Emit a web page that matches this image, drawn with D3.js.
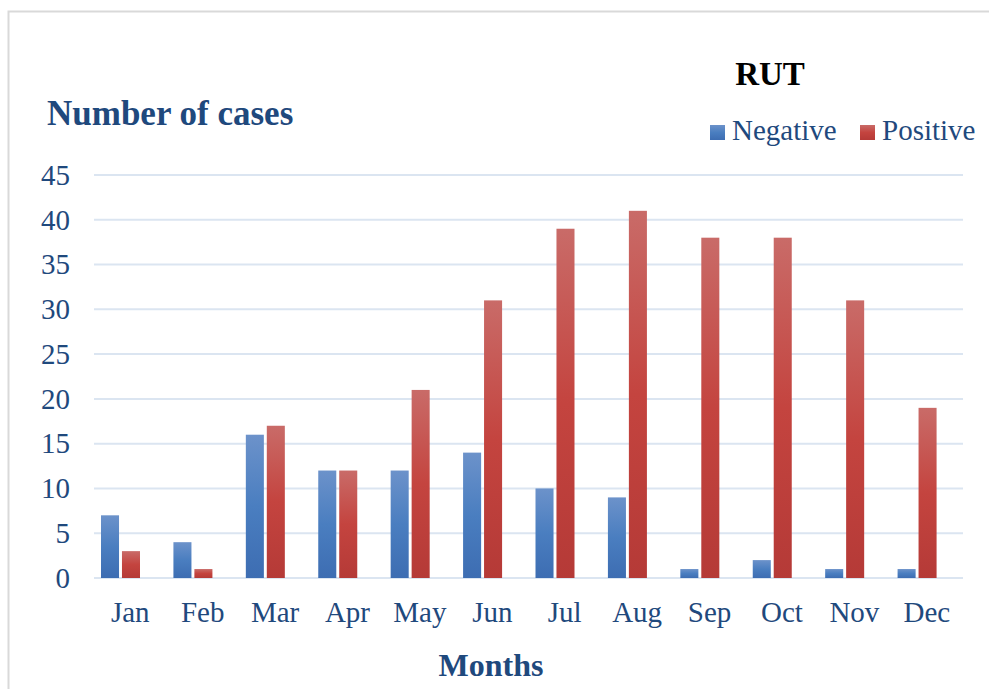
<!DOCTYPE html>
<html lang="en">
<head>
<meta charset="UTF-8"/>
<title>RUT</title>
<script src="https://d3js.org/d3.v7.min.js"></script>
<style>
  body { margin: 0; background: #fff; }
  text { font-family: "Liberation Serif", "Times New Roman", serif; }
</style>
</head>
<body>
<svg id="chart" width="989" height="689"></svg>
<script>
// data
var months = ["Jan", "Feb", "Mar", "Apr", "May", "Jun", "Jul", "Aug", "Sep", "Oct", "Nov", "Dec"];
var seriesNames = ["Negative", "Positive"];
var negative = [7, 4, 16, 12, 12, 14, 10, 9, 1, 2, 1, 1];
var positive = [3, 1, 17, 12, 21, 31, 39, 41, 38, 38, 31, 19];
var yTicks = [0, 5, 10, 15, 20, 25, 30, 35, 40, 45];

var textColor = "#1f497d";

var svg = d3.select("#chart");

// gradients like the office fill
var defs = svg.append("defs");
function grad(id, stops) {
  var g = defs.append("linearGradient").attr("id", id)
    .attr("x1", 0).attr("y1", 0).attr("x2", 0).attr("y2", 1);
  stops.forEach(function(s) {
    g.append("stop").attr("offset", s[0]).attr("stop-color", s[1]);
  });
}
grad("gNeg", [[0, "#6c92ca"], [0.5, "#4a7ec0"], [1, "#3d6db2"]]);
grad("gPos", [[0, "#c96b68"], [0.5, "#c4443f"], [1, "#b53a37"]]);
var fills = { Negative: "url(#gNeg)", Positive: "url(#gPos)" };

// outer frame
svg.append("rect")
  .attr("x", 8.5).attr("y", 11.5)
  .attr("width", 1200).attr("height", 900)
  .attr("fill", "none")
  .attr("stroke", "#d9d9d9")
  .attr("stroke-width", 2);

var x = d3.scaleBand().domain(months).range([94, 963]);
var xInner = d3.scaleBand().domain(seriesNames).range([7, 46]).paddingInner(0.14);
var y = d3.scaleLinear().domain([0, 45]).range([578, 175]);

// gridlines
svg.append("g")
  .selectAll("line")
  .data(yTicks)
  .enter()
  .append("line")
    .attr("x1", 94).attr("x2", 963)
    .attr("y1", function(d) { return y(d); })
    .attr("y2", function(d) { return y(d); })
    .attr("stroke", "#dbe5f1")
    .attr("stroke-width", 2);

// y tick labels
var yAxis = svg.append("g")
  .attr("transform", "translate(70,0)")
  .call(d3.axisLeft(y).tickValues(yTicks).tickSize(0).tickPadding(0));
yAxis.select(".domain").remove();
yAxis.selectAll("text")
  .attr("fill", textColor)
  .style("font-size", "29px")
  .style("font-family", "'Liberation Serif', serif");

// x tick labels
var xAxis = svg.append("g")
  .attr("transform", "translate(0,600)")
  .call(d3.axisBottom(x).tickSize(0).tickPadding(0));
xAxis.select(".domain").remove();
xAxis.selectAll("text")
  .attr("fill", textColor)
  .attr("dy", "0.75em")
  .style("font-size", "29px")
  .style("font-family", "'Liberation Serif', serif");

// bars
var rows = months.map(function(m, i) {
  return { month: m, values: [
    { key: "Negative", value: negative[i] },
    { key: "Positive", value: positive[i] }
  ] };
});

svg.append("g")
  .selectAll("g")
  .data(rows)
  .enter()
  .append("g")
    .attr("transform", function(d) { return "translate(" + x(d.month) + ",0)"; })
  .selectAll("rect")
  .data(function(d) { return d.values; })
  .enter()
  .append("rect")
    .attr("x", function(d) { return xInner(d.key); })
    .attr("width", xInner.bandwidth())
    .attr("y", function(d) { return y(d.value); })
    .attr("height", function(d) { return y(0) - y(d.value); })
    .attr("fill", function(d) { return fills[d.key]; });

// titles
svg.append("text")
  .attr("x", 47).attr("y", 125)
  .text("Number of cases")
  .attr("fill", textColor)
  .style("font-size", "35px")
  .style("font-weight", "bold");

svg.append("text")
  .attr("x", 770).attr("y", 85)
  .attr("text-anchor", "middle")
  .text("RUT")
  .attr("fill", "#000")
  .style("font-size", "33px")
  .style("font-weight", "bold");

svg.append("text")
  .attr("x", 491).attr("y", 676)
  .attr("text-anchor", "middle")
  .text("Months")
  .attr("fill", textColor)
  .style("font-size", "32px")
  .style("font-weight", "bold");

// legend
var legendX = [710, 860];
var legend = svg.append("g")
  .selectAll("g")
  .data(seriesNames)
  .enter()
  .append("g")
    .attr("transform", function(d, i) { return "translate(" + legendX[i] + ",125)"; });
legend.append("rect")
  .attr("width", 15).attr("height", 15)
  .attr("fill", function(d) { return fills[d]; });
legend.append("text")
  .attr("x", 22).attr("y", 15)
  .text(function(d) { return d; })
  .attr("fill", textColor)
  .style("font-size", "29px");
</script>
</body>
</html>
